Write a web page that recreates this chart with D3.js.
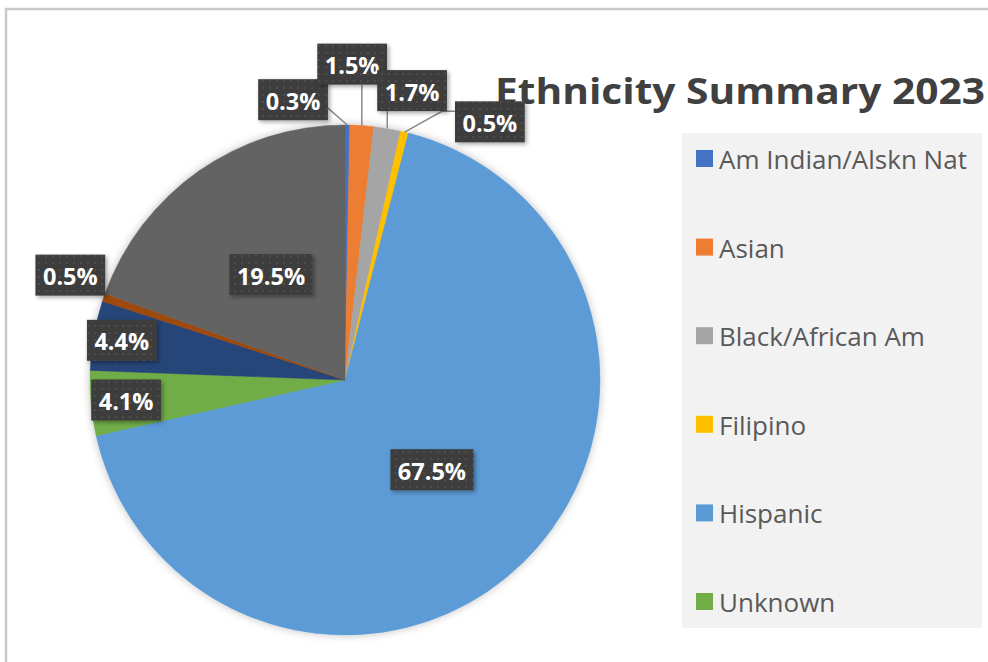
<!DOCTYPE html>
<html><head><meta charset="utf-8">
<script src="https://cdn.jsdelivr.net/npm/d3@7"></script>
<style>body{margin:0;background:#fff;}svg{display:block;}</style>
</head><body>
<script>
// ---- data ----
const categories = ["Am Indian/Alskn Nat","Asian","Black/African Am","Filipino","Hispanic","Unknown","Two or More Races","Pacific Islander","White"];
const percents = [0.3,1.5,1.7,0.5,67.5,4.1,4.4,0.5,19.5];
const colors = ["#4472C4","#ED7D31","#A5A5A5","#FFC000","#5B9BD5","#70AD47","#264478","#9E480E","#636363"];
const labelTexts = percents.map(v => v.toFixed(1) + "%");
const titleText = "Ethnicity Summary 2023";

// ---- layout (not data) ----
const W = 988, H = 662;
const cx = 345, cy = 380, R = 255;
// label placement: [mode, angleDeg (null=mid), radius factor]
const labelPlace = [
  ["out", 349.5, 1.118],
  ["out", 1.3, 1.239],
  ["out", 13.05, 1.165],
  ["out", 29.3, 1.161],
  ["in", null, 0.49],
  ["in", null, 0.862],
  ["in", null, 0.889],
  ["out", 290.9, 1.153],
  ["in", null, 0.505]
];

const svg = d3.select("body").append("svg").attr("width", W).attr("height", H);
const defs = svg.append("defs");
const pat = defs.append("pattern").attr("id","dots").attr("width",7).attr("height",7).attr("patternUnits","userSpaceOnUse");
pat.append("rect").attr("width",7).attr("height",7).attr("fill","#3d3d3d");
pat.append("circle").attr("cx",2).attr("cy",2).attr("r",0.9).attr("fill","#555");
const sh = defs.append("filter").attr("id","shadow").attr("x","-20%").attr("y","-20%").attr("width","150%").attr("height","150%");
sh.append("feDropShadow").attr("dx",2).attr("dy",2).attr("stdDeviation",2).attr("flood-color","#000").attr("flood-opacity",0.35);
const psh = defs.append("filter").attr("id","pieshadow").attr("x","-10%").attr("y","-10%").attr("width","120%").attr("height","120%");
psh.append("feDropShadow").attr("dx",0).attr("dy",0).attr("stdDeviation",4).attr("flood-color","#000").attr("flood-opacity",0.25);

// chart border
svg.append("rect").attr("x",6).attr("y",9).attr("width",W+20).attr("height",H+20)
  .attr("fill","#fff").attr("stroke","#c9c9c9").attr("stroke-width",2.5);

// title
svg.append("text").attr("x",495).attr("y",104)
  .attr("font-family","'Open Sans', sans-serif").attr("font-weight",700).attr("font-size",36)
  .attr("textLength",490).attr("lengthAdjust","spacingAndGlyphs")
  .attr("fill","#404040").text(titleText);

// pie
const pie = d3.pie().sort(null).value(d => d.v).startAngle(0).endAngle(2*Math.PI);
const data = categories.map((c,i) => ({c, v: percents[i], col: colors[i], lab: labelTexts[i], place: labelPlace[i]}));
const arcs = pie(data);
const arc = d3.arc().innerRadius(0).outerRadius(R);
const g = svg.append("g").attr("transform", `translate(${cx},${cy})`);
g.append("g").attr("filter","url(#pieshadow)").selectAll("path").data(arcs).join("path")
  .attr("d", arc).attr("fill", d => d.data.col).attr("stroke", d => d.data.col).attr("stroke-width",0.5);

function polar(angDeg, rad){ const a = angDeg*Math.PI/180; return [rad*Math.sin(a), -rad*Math.cos(a)]; }

// labels
const lg = g.append("g");
const labelFont = "'Open Sans', sans-serif";
const labelSize = 23.5;
arcs.forEach(d => {
  const p = d.data.place;
  const mid = (d.startAngle + d.endAngle)/2 * 180/Math.PI;
  const ang = p[1] == null ? mid : p[1];
  const [x, y] = polar(ang, p[2]*R);
  const t = lg.append("text").attr("x", x).attr("y", y).attr("text-anchor","middle")
    .attr("font-family",labelFont).attr("font-weight",700)
    .attr("font-size",labelSize).attr("fill","#fff").text(d.data.lab);
  const w = t.node().getComputedTextLength() + 15, h = 41;
  d.box = {x: x - w/2, y: y - h/2, w, h};
  d.lp = [x, y];
  d.mid = mid;
  t.remove();
});
// leader lines for outside labels
arcs.forEach((d,i) => {
  if (d.data.place[0] !== "out") return;
  const e = polar(d.mid, R);
  const b = d.box;
  let pts;
  if (i === 0) pts = [[b.x + b.w, b.y + b.h - 12], e];
  else if (i === 1 || i === 2) pts = [[e[0], b.y + b.h], e];
  else if (i === 3) pts = [[b.x, b.y + 10], [b.x - 13, b.y + 10], e];
  else return;
  lg.append("path").attr("d", d3.line()(pts)).attr("fill","none").attr("stroke","#8a8a8a").attr("stroke-width",1.5);
});
arcs.forEach(d => {
  const b = d.box;
  lg.append("rect").attr("x", b.x).attr("y", b.y).attr("width", b.w).attr("height", b.h)
    .attr("fill","url(#dots)").attr("filter","url(#shadow)");
  lg.append("text").attr("x", d.lp[0]).attr("y", d.lp[1]+1).attr("text-anchor","middle")
    .attr("dominant-baseline","central").attr("font-family",labelFont).attr("font-weight",700)
    .attr("font-size",labelSize).attr("fill","#fff").text(d.data.lab);
});

// legend (box clips the entries that do not fit, as in the reference)
const lx = 682, ly = 133, lw = 300, lh = 495;
svg.append("rect").attr("x",lx).attr("y",ly).attr("width",lw).attr("height",lh).attr("fill","#f2f2f2");
const y0 = d3.scaleLinear().domain([0,1]).range([158, 246.6]);
const shown = data.filter((d,i) => y0(i) + 14 < ly + lh);
const leg = svg.append("g");
const items = leg.selectAll("g").data(shown).join("g").attr("transform",(d,i)=>`translate(0,${y0(i)})`);
items.append("rect").attr("x",696).attr("y",-8).attr("width",17).attr("height",17).attr("fill",d=>d.col);
items.append("text").attr("x",719).attr("y",1).attr("dominant-baseline","central")
  .attr("font-family","'Open Sans', sans-serif").attr("font-size",26).attr("fill","#595959").text(d=>d.c);
</script>
</body></html>
